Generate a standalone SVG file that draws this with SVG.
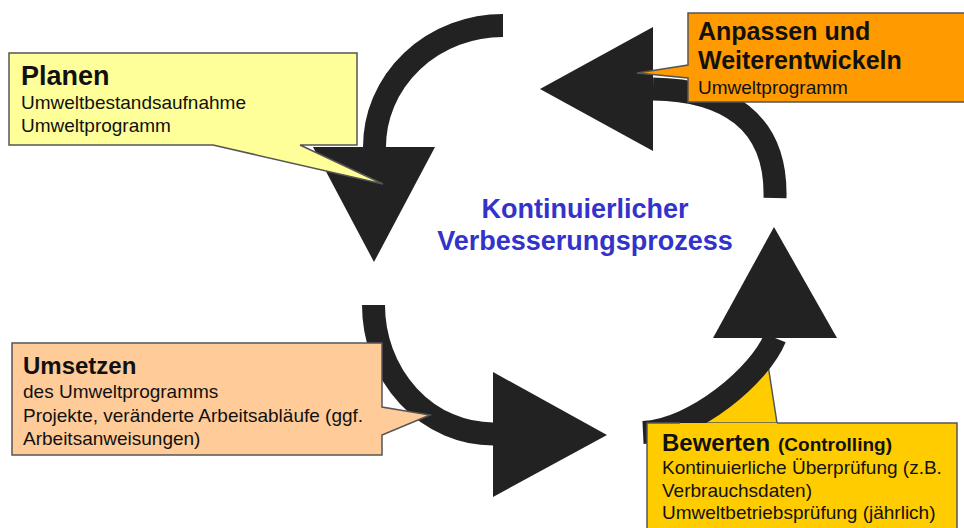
<svg xmlns="http://www.w3.org/2000/svg" width="964" height="528" viewBox="0 0 964 528">
<style>
.box{stroke:#555;stroke-width:1.5;stroke-linejoin:miter}
.shaft{fill:none;stroke:#222;stroke-width:23;stroke-linecap:butt}
.head{fill:#222}
.t{font-family:"Liberation Sans",Arial,sans-serif;fill:#111}
.b{font-weight:bold}
.r{font-size:19px}
.title{font-family:"Liberation Sans",Arial,sans-serif;font-weight:bold;font-size:27px;fill:#3333cc;text-anchor:middle}
</style>
<rect width="964" height="528" fill="#ffffff"/>
<g id="bewerten-callout-tail">
<path d="M680,423 L768,365 L777,423 Z" fill="#ffcc00" stroke="#555" stroke-width="1.5"/>
</g>
<g id="connectors">
<path class="shaft" d="M503,25.5 A128.5,121.5 0 0 0 374.5,147"/>
<polygon class="head" points="313,147 435,147 374,262"/>
<path class="shaft" d="M373.5,305 A119.5,129 0 0 0 493,434"/>
<polygon class="head" points="493,372 493,497 607,435"/>
<path class="shaft" d="M643,432.5 C695,430 760,375 775,338"/>
<polygon class="head" points="713,338 837,338 774,227"/>
<path class="shaft" d="M775,198 C777,120 725,90 653,89"/>
<polygon class="head" points="653,27 653,151 540,89"/>
</g>
<g id="center-label">
<text class="title" x="585" y="218">Kontinuierlicher</text>
<text class="title" x="585" y="250">Verbesserungsprozess</text>
</g>
<g id="planen">
<path class="box" d="M9,53 H357 V145 H300 L383,184 L213,145 H9 Z" fill="#ffff99" stroke="#777"/>
<text class="t b" x="21" y="85" font-size="27">Planen</text>
<text class="t r" x="21" y="109">Umweltbestandsaufnahme</text>
<text class="t r" x="21" y="132">Umweltprogramm</text>
</g>
<g id="anpassen">
<path class="box" d="M688,13 H966 V102 H688 V78 L637,73 L688,65 Z" fill="#ff9a00"/>
<text class="t b" x="698" y="40" font-size="25">Anpassen und</text>
<text class="t b" x="698" y="69" font-size="25">Weiterentwickeln</text>
<text class="t r" x="698" y="94">Umweltprogramm</text>
</g>
<g id="umsetzen">
<path class="box" d="M12,343 H382 V407 L430,415 L382,435 V455 H12 Z" fill="#ffcc99"/>
<text class="t b" x="23" y="374" font-size="24">Umsetzen</text>
<text class="t r" x="23" y="398">des Umweltprogramms</text>
<text class="t r" x="23" y="422">Projekte, veränderte Arbeitsabläufe (ggf.</text>
<text class="t r" x="23" y="445">Arbeitsanweisungen)</text>
</g>
<g id="bewerten">
<rect x="647" y="423" width="310" height="110" fill="#ffcc00"/>
<path d="M680,423 H647 V533 M957,533 V423 H777" fill="none" stroke="#555" stroke-width="1.5"/>
<text class="t b" x="662" y="451" font-size="24">Bewerten</text>
<text class="t b" x="778" y="451" font-size="19">(Controlling)</text>
<text class="t r" x="662" y="474">Kontinuierliche Überprüfung (z.B.</text>
<text class="t r" x="662" y="497">Verbrauchsdaten)</text>
<text class="t r" x="662" y="519">Umweltbetriebsprüfung (jährlich)</text>
</g>
</svg>
